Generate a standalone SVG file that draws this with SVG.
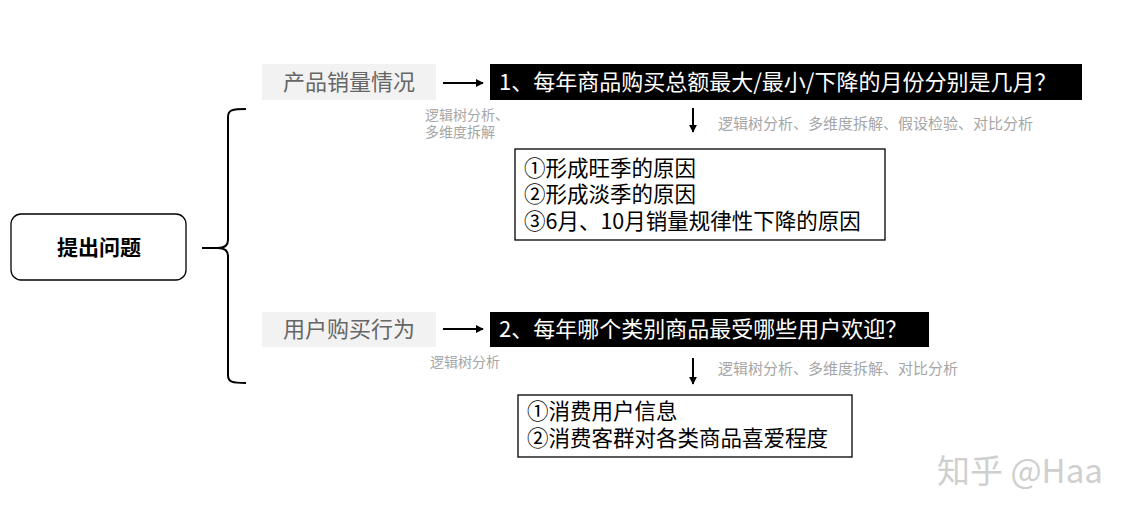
<svg xmlns="http://www.w3.org/2000/svg" width="1141" height="516" viewBox="0 0 1141 516">
<style>
.cjk{font-family:"Noto Sans CJK SC","Noto Sans",sans-serif}
.gbox{fill:#f2f2f2}
.gtxt{fill:#666;font-size:22px}
.bbox{fill:#000}
.btxt{fill:#fff;font-size:22px}
.wbox{fill:#fff;stroke:#000;stroke-width:1.3}
.wtxt{fill:#000;font-size:21.5px}
.note{fill:#a6a6a6;font-size:14px}
.note2{fill:#a6a6a6;font-size:15px}
.ln{stroke:#000;stroke-width:2;fill:none}
</style>
<defs>
<marker id="ah" viewBox="0 0 10 10" refX="9" refY="5" markerWidth="4" markerHeight="4" orient="auto" markerUnits="strokeWidth">
<path d="M0,0 L10,5 L0,10 z" fill="#000"/>
</marker>
</defs>
<rect width="1141" height="516" fill="#fff"/>
<g id="root">
<rect x="11" y="214" width="175" height="66" rx="10" fill="#fff" stroke="#000" stroke-width="1.3"/>
<text class="cjk" x="99" y="255" font-size="21" font-weight="bold" text-anchor="middle" fill="#000">提出问题</text>
</g>
<g id="connectors">
<path class="ln" d="M246,109 C232,109 228,110 228,117 L228,240 C228,246 224,248 218,248 L202,248 M218,248 C224,248 228,250 228,256 L228,375 C228,382 232,383 246,383"/>
<line class="ln" x1="443" y1="83" x2="483" y2="83" marker-end="url(#ah)"/>
<line class="ln" x1="443" y1="329" x2="483" y2="329" marker-end="url(#ah)"/>
<line class="ln" x1="693" y1="108" x2="693" y2="132" marker-end="url(#ah)"/>
<line class="ln" x1="693" y1="358" x2="693" y2="384" marker-end="url(#ah)"/>
</g>
<g id="topic1">
<rect class="gbox" x="262" y="64" width="174" height="36"/>
<text class="cjk gtxt" x="349" y="90" text-anchor="middle">产品销量情况</text>
</g>
<g id="question1">
<rect class="bbox" x="490" y="64" width="592" height="36"/>
<text class="cjk btxt" x="499" y="90">1、每年商品购买总额最大/最小/下降的月份分别是几月？</text>
</g>
<g id="note1">
<text class="cjk note" x="425" y="120">逻辑树分析、</text>
<text class="cjk note" x="425" y="137">多维度拆解</text>
</g>
<g id="note2">
<text class="cjk note2" x="718" y="129">逻辑树分析、多维度拆解、假设检验、对比分析</text>
</g>
<g id="detail1">
<rect class="wbox" x="515" y="149" width="370" height="91"/>
<text class="cjk wtxt" x="524" y="176">①形成旺季的原因</text>
<text class="cjk wtxt" x="524" y="202">②形成淡季的原因</text>
<text class="cjk wtxt" x="524" y="229">③6月、10月销量规律性下降的原因</text>
</g>
<g id="topic2">
<rect class="gbox" x="262" y="312" width="174" height="35"/>
<text class="cjk gtxt" x="349" y="337" text-anchor="middle">用户购买行为</text>
</g>
<g id="question2">
<rect class="bbox" x="490" y="312" width="439" height="35"/>
<text class="cjk btxt" x="499" y="337">2、每年哪个类别商品最受哪些用户欢迎？</text>
</g>
<g id="note3">
<text class="cjk note" x="430" y="367">逻辑树分析</text>
</g>
<g id="note4">
<text class="cjk note2" x="718" y="374">逻辑树分析、多维度拆解、对比分析</text>
</g>
<g id="detail2">
<rect class="wbox" x="518" y="395" width="334" height="62"/>
<text class="cjk wtxt" x="527" y="419">①消费用户信息</text>
<text class="cjk wtxt" x="527" y="446">②消费客群对各类商品喜爱程度</text>
</g>
<text class="cjk" x="937" y="483" font-size="33" fill="#cfcfcf">知乎 @Haa</text>
</svg>
